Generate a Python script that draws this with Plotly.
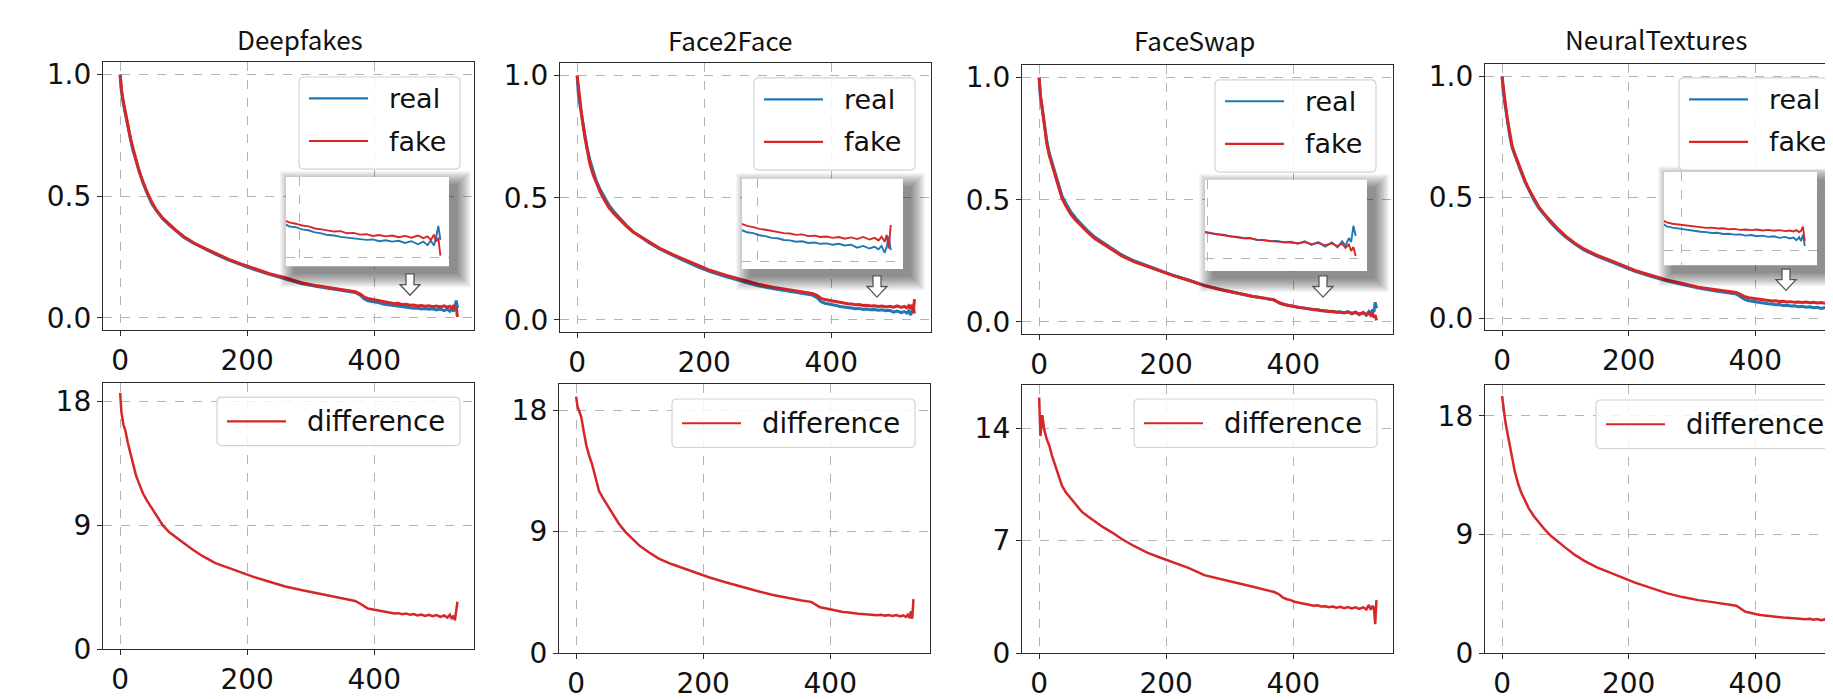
import plotly.graph_objects as go

W, H = 1833, 699

# ---------------- data ----------------
X = [0, 2, 5, 8, 12, 16, 20, 25, 30, 36,
     42, 50, 58, 67, 77, 88, 100, 115, 130, 150,
     170, 190, 210, 235, 260, 285, 310, 335, 355, 370,
     378, 384, 390, 396, 402, 408, 414, 420, 426, 432,
     438, 444, 450, 456, 462, 468, 474, 480, 486, 492,
     498, 504, 510, 515, 519, 522, 525, 527, 529, 531]

DF_FAKE = [1.00, 0.94, 0.89, 0.85, 0.79, 0.74, 0.70, 0.65, 0.60, 0.56,
           0.52, 0.475, 0.44, 0.41, 0.385, 0.36, 0.335, 0.31, 0.29, 0.265,
           0.242, 0.222, 0.203, 0.182, 0.165, 0.145, 0.132, 0.122, 0.114, 0.108,
           0.098, 0.086, 0.080, 0.077, 0.073, 0.071, 0.066, 0.064, 0.062, 0.059,
           0.060, 0.055, 0.056, 0.052, 0.053, 0.049, 0.051, 0.048, 0.050, 0.046,
           0.049, 0.045, 0.050, 0.044, 0.048, 0.040, 0.052, 0.036, 0.045, 0.004]
DF_REAL = [1.00, 0.93, 0.88, 0.84, 0.78, 0.74, 0.69, 0.65, 0.60, 0.555,
           0.515, 0.468, 0.438, 0.408, 0.382, 0.357, 0.332, 0.308, 0.287, 0.262,
           0.239, 0.219, 0.200, 0.179, 0.162, 0.142, 0.129, 0.119, 0.111, 0.105,
           0.094, 0.079, 0.071, 0.069, 0.064, 0.062, 0.057, 0.055, 0.051, 0.050,
           0.047, 0.045, 0.043, 0.042, 0.040, 0.041, 0.037, 0.039, 0.036, 0.038,
           0.033, 0.037, 0.030, 0.036, 0.028, 0.038, 0.027, 0.046, 0.072, 0.040]
DF_DIFF = [18.6, 17.2, 16.3, 15.9, 15.0, 14.2, 13.5, 12.6, 12.0, 11.3,
           10.8, 10.2, 9.6, 9.0, 8.5, 8.1, 7.7, 7.2, 6.75, 6.25,
           5.9, 5.55, 5.25, 4.9, 4.55, 4.3, 4.05, 3.8, 3.65, 3.5,
           3.3, 3.1, 2.95, 2.9, 2.85, 2.8, 2.75, 2.72, 2.68, 2.6,
           2.62, 2.55, 2.6, 2.5, 2.55, 2.45, 2.52, 2.42, 2.5, 2.4,
           2.48, 2.35, 2.45, 2.3, 2.5, 2.2, 2.45, 2.1, 2.8, 3.45]

F2F_FAKE = [1.00, 0.95, 0.88, 0.82, 0.75, 0.69, 0.64, 0.595, 0.56, 0.525,
            0.495, 0.46, 0.435, 0.41, 0.385, 0.36, 0.34, 0.315, 0.293, 0.268,
            0.245, 0.222, 0.202, 0.182, 0.163, 0.146, 0.133, 0.122, 0.114, 0.108,
            0.100, 0.088, 0.083, 0.080, 0.076, 0.074, 0.071, 0.069, 0.066, 0.065,
            0.062, 0.063, 0.059, 0.060, 0.057, 0.058, 0.055, 0.057, 0.053, 0.056,
            0.052, 0.057, 0.051, 0.055, 0.049, 0.058, 0.046, 0.062, 0.030, 0.085]
F2F_REAL = [1.00, 0.92, 0.87, 0.82, 0.76, 0.70, 0.655, 0.61, 0.57, 0.535,
            0.505, 0.47, 0.443, 0.415, 0.388, 0.361, 0.339, 0.313, 0.29, 0.264,
            0.24, 0.217, 0.197, 0.176, 0.157, 0.14, 0.127, 0.116, 0.108, 0.102,
            0.090, 0.074, 0.068, 0.066, 0.061, 0.059, 0.055, 0.054, 0.050, 0.049,
            0.046, 0.047, 0.043, 0.044, 0.041, 0.042, 0.039, 0.041, 0.037, 0.039,
            0.032, 0.036, 0.030, 0.034, 0.028, 0.036, 0.020, 0.034, 0.058, 0.026]
F2F_DIFF = [19.0, 18.3, 17.9, 17.5, 16.4, 15.4, 14.7, 14.0, 13.1, 12.0,
            11.5, 10.9, 10.2, 9.6, 9.0, 8.5, 7.95, 7.45, 7.0, 6.6,
            6.25, 5.9, 5.6, 5.25, 4.9, 4.6, 4.3, 4.05, 3.9, 3.8,
            3.55, 3.4, 3.35, 3.28, 3.22, 3.18, 3.1, 3.05, 3.02, 2.97,
            2.95, 2.92, 2.9, 2.88, 2.84, 2.87, 2.8, 2.85, 2.78, 2.83,
            2.76, 2.82, 2.72, 2.8, 2.68, 2.85, 2.6, 3.1, 2.55, 4.0]

FS_FAKE = [1.00, 0.93, 0.87, 0.81, 0.73, 0.68, 0.645, 0.60, 0.55, 0.505,
           0.475, 0.44, 0.415, 0.39, 0.365, 0.34, 0.32, 0.295, 0.27, 0.245,
           0.226, 0.207, 0.19, 0.17, 0.148, 0.132, 0.117, 0.105, 0.097, 0.09,
           0.078, 0.072, 0.068, 0.066, 0.062, 0.060, 0.057, 0.055, 0.052, 0.050,
           0.049, 0.046, 0.044, 0.043, 0.041, 0.040, 0.039, 0.037, 0.040, 0.035,
           0.038, 0.032, 0.037, 0.030, 0.036, 0.026, 0.034, 0.018, 0.028, 0.006]
FS_REAL = [1.00, 0.92, 0.87, 0.81, 0.74, 0.69, 0.655, 0.61, 0.56, 0.515,
           0.485, 0.45, 0.423, 0.397, 0.371, 0.346, 0.325, 0.299, 0.274, 0.249,
           0.229, 0.209, 0.191, 0.171, 0.149, 0.132, 0.117, 0.105, 0.096, 0.089,
           0.077, 0.071, 0.069, 0.065, 0.063, 0.059, 0.058, 0.054, 0.053, 0.049,
           0.050, 0.045, 0.045, 0.042, 0.043, 0.039, 0.041, 0.036, 0.042, 0.033,
           0.040, 0.029, 0.039, 0.027, 0.042, 0.031, 0.050, 0.040, 0.080, 0.055]
FS_DIFF = [15.9, 13.5, 14.8, 13.9, 13.3, 12.9, 12.3, 11.7, 11.0, 10.4,
           10.0, 9.6, 9.2, 8.8, 8.5, 8.2, 7.85, 7.5, 7.1, 6.65,
           6.25, 5.95, 5.65, 5.3, 4.85, 4.6, 4.38, 4.15, 3.95, 3.8,
           3.65, 3.45, 3.35, 3.3, 3.2, 3.15, 3.08, 3.05, 3.0, 2.95,
           2.98, 2.9, 2.92, 2.85, 2.9, 2.82, 2.88, 2.8, 2.86, 2.78,
           2.85, 2.75, 2.85, 2.72, 3.0, 2.7, 2.95, 2.8, 1.8, 3.3]

NT_FAKE = [1.00, 0.95, 0.89, 0.83, 0.76, 0.71, 0.68, 0.645, 0.61, 0.57,
           0.535, 0.495, 0.46, 0.43, 0.40, 0.37, 0.34, 0.31, 0.285, 0.26,
           0.24, 0.218, 0.197, 0.177, 0.158, 0.143, 0.128, 0.118, 0.110, 0.106,
           0.096, 0.088, 0.084, 0.082, 0.079, 0.077, 0.075, 0.074, 0.071, 0.072,
           0.069, 0.070, 0.067, 0.068, 0.065, 0.066, 0.064, 0.066, 0.063, 0.065,
           0.062, 0.064, 0.061, 0.063, 0.060, 0.064, 0.058, 0.062, 0.075, 0.030]
NT_REAL = [1.00, 0.93, 0.88, 0.82, 0.755, 0.705, 0.675, 0.64, 0.605, 0.565,
           0.53, 0.49, 0.455, 0.425, 0.395, 0.365, 0.336, 0.306, 0.281, 0.256,
           0.236, 0.214, 0.193, 0.173, 0.154, 0.139, 0.124, 0.113, 0.105, 0.100,
           0.086, 0.076, 0.072, 0.069, 0.066, 0.063, 0.062, 0.059, 0.058, 0.055,
           0.056, 0.052, 0.053, 0.050, 0.051, 0.047, 0.049, 0.045, 0.047, 0.043,
           0.045, 0.040, 0.043, 0.038, 0.041, 0.033, 0.042, 0.030, 0.050, 0.015]
NT_DIFF = [19.5, 18.6, 17.6, 16.8, 15.8, 14.8, 13.8, 12.9, 12.2, 11.6,
           11.0, 10.4, 9.9, 9.4, 8.9, 8.45, 8.0, 7.45, 7.0, 6.5,
           6.1, 5.7, 5.35, 4.95, 4.55, 4.25, 4.02, 3.85, 3.72, 3.6,
           3.35, 3.15, 3.08, 3.0, 2.95, 2.9, 2.86, 2.82, 2.8, 2.75,
           2.74, 2.7, 2.69, 2.66, 2.65, 2.6, 2.62, 2.57, 2.6, 2.53,
           2.58, 2.5, 2.56, 2.45, 2.55, 2.4, 2.6, 2.3, 3.4, 1.85]

PANELS = ["Deepfakes", "Face2Face", "FaceSwap", "NeuralTextures"]
REAL = [DF_REAL, F2F_REAL, FS_REAL, NT_REAL]
FAKE = [DF_FAKE, F2F_FAKE, FS_FAKE, NT_FAKE]
DIFF = [DF_DIFF, F2F_DIFF, FS_DIFF, NT_DIFF]
X_TICKS = [0, 200, 400]
TOP_Y_TICKS = [0.0, 0.5, 1.0]
DIFF_TICKS = [[0, 9, 18], [0, 9, 18], [0, 7, 14], [0, 9, 18]]
SERIES_NAMES = ["real", "fake", "difference"]

# ---------------- styling / geometry (pixels) ----------------
BLUE = "#1f77b4"
RED = "#d62728"
GRID = "#b4b4b4"
SPINE = "#2b2b2b"
TICKFONT = dict(family="DejaVu Sans", size=28, color="#111111")

TOP_BOX = [(95, 466, 52, 328), (552, 923, 53, 330), (1014, 1385, 55, 332), (1477, 1833, 54, 328)]
BOT_BOX = [(95, 466, 382, 657), (551, 922, 384, 661), (1014, 1385, 385, 661), (1477, 1833, 385, 661)]
X_RANGE = [[-27, 557], [-27, 557], [-27, 557], [-27, 535.5]]
TOP_Y_RANGE = [-0.05, 1.05]
BOT_YMAX = [19.35, 19.9, 16.65, 20.3]
INSET_BOX = [(278, 441, 170, 262), (734, 895, 172, 265), (1197, 1359, 173, 267), (1656, 1809, 165, 261)]
INSET_XR = [[387, 539], [385, 543], [398, 541], [381, 544]]
INSET_YR = [[-0.02, 0.184], [-0.018, 0.193], [-0.031, 0.193], [-0.045, 0.245]]
ARROWS = [(402, 270), (869, 272), (1315, 272), (1778, 265)]
TITLE_POS = [(292, 27), (722, 28), (1186, 28), (1648, 27)]
# legend boxes: (right edge, top) in px
LEG_TOP = [(452, 67), (907, 68), (1368, 70), (1832, 68)]
LEG_BOT = [(452, 397), (907, 399), (1369, 399), (1831, 400)]


def fx(p):
    return p / W


def fy(p):
    return 1 - p / H


def axkey(n, c):
    return f"{c}axis" if n == 1 else f"{c}axis{n}"


def axref(n, c):
    return c if n == 1 else f"{c}{n}"


def rounded_rect(x0, y0, x1, y1, r):
    def P(x, y):
        return f"{fx(x):.5f},{fy(y):.5f}"
    return (f"M {P(x0 + r, y0)} L {P(x1 - r, y0)} Q {P(x1, y0)} {P(x1, y0 + r)} "
            f"L {P(x1, y1 - r)} Q {P(x1, y1)} {P(x1 - r, y1)} "
            f"L {P(x0 + r, y1)} Q {P(x0, y1)} {P(x0, y1 - r)} "
            f"L {P(x0, y0 + r)} Q {P(x0, y0)} {P(x0 + r, y0)} Z")


fig = go.Figure()
shapes, annotations = [], []
layout = dict(
    width=W, height=H, autosize=False,
    margin=dict(l=0, r=0, t=0, b=0),
    paper_bgcolor="white", plot_bgcolor="rgba(0,0,0,0)",
    hovermode=False, showlegend=False,
    font=dict(family="DejaVu Sans", color="#111111"),
)

main_x = dict(showgrid=True, gridcolor=GRID, griddash="dash", gridwidth=1, zeroline=False,
              showline=True, linecolor=SPINE, linewidth=1.3, ticks="outside", ticklen=5,
              tickwidth=1.2, tickcolor=SPINE, tickfont=TICKFONT, tickvals=X_TICKS)
main_y = dict(showgrid=True, gridcolor=GRID, griddash="dash", gridwidth=1, zeroline=False,
              showline=True, linecolor=SPINE, linewidth=1.3, ticks="outside", ticklen=5,
              tickwidth=1.2, tickcolor=SPINE, tickfont=TICKFONT)


def add_legend(right, top, width, height, rows, size):
    left = right - width
    shapes.append(dict(type="path", path=rounded_rect(left, top, right, top + height, 5),
                       xref="paper", yref="paper", fillcolor="rgba(255,255,255,0.82)",
                       line=dict(color="#d3d3d3", width=1.2), layer="above"))
    for (dy, color, label) in rows:
        yy = top + dy
        shapes.append(dict(type="line", x0=fx(left + 10), x1=fx(left + 69), y0=fy(yy), y1=fy(yy),
                           xref="paper", yref="paper", line=dict(color=color, width=2.2),
                           layer="above"))
        annotations.append(dict(text=label, x=fx(left + 88), y=fy(yy), xref="paper", yref="paper",
                                xanchor="left", yanchor="middle", showarrow=False,
                                font=dict(family="DejaVu Sans", size=size, color="#111111")))


for i in range(4):
    t, b, o, s = i + 1, i + 5, i + 9, i + 13
    # --- main top
    x0, x1, y0, y1 = TOP_BOX[i]
    layout[axkey(t, "x")] = dict(main_x, domain=[fx(x0), fx(x1)], range=X_RANGE[i],
                                 anchor=axref(t, "y"), mirror=True)
    layout[axkey(t, "y")] = dict(main_y, domain=[fy(y1), fy(y0)], range=TOP_Y_RANGE,
                                 tickvals=TOP_Y_TICKS, tickformat=".1f",
                                 anchor=axref(t, "x"), mirror=(i < 3))
    # --- main bottom
    x0, x1, y0, y1 = BOT_BOX[i]
    layout[axkey(b, "x")] = dict(main_x, domain=[fx(x0), fx(x1)], range=X_RANGE[i],
                                 anchor=axref(b, "y"), mirror=True)
    layout[axkey(b, "y")] = dict(main_y, domain=[fy(y1), fy(y0)], range=[0, BOT_YMAX[i]],
                                 tickvals=DIFF_TICKS[i], anchor=axref(b, "x"), mirror=(i < 3))
    # --- shadow / white backing layer for the inset (pixel-unit axes)
    bx0, bx1, by0, by1 = INSET_BOX[i]
    ox0, ox1, oy0, oy1 = bx0 - 8, min(bx1 + 24, W), by0 - 8, by1 + 24
    layout[axkey(o, "x")] = dict(visible=False, domain=[fx(ox0), fx(ox1)], range=[ox0, ox1],
                                 anchor=axref(o, "y"), fixedrange=True)
    layout[axkey(o, "y")] = dict(visible=False, domain=[fy(oy1), fy(oy0)], range=[oy1, oy0],
                                 anchor=axref(o, "x"), fixedrange=True)
    # --- inset
    layout[axkey(s, "x")] = dict(domain=[fx(bx0), fx(bx1)], range=INSET_XR[i], tickvals=[400],
                                 showticklabels=False, ticks="", showline=False, zeroline=False,
                                 showgrid=True, gridcolor=GRID, griddash="dash", gridwidth=1,
                                 anchor=axref(s, "y"))
    layout[axkey(s, "y")] = dict(domain=[fy(by1), fy(by0)], range=INSET_YR[i], tickvals=[0],
                                 showticklabels=False, ticks="", showline=False, zeroline=False,
                                 showgrid=True, gridcolor=GRID, griddash="dash", gridwidth=1,
                                 anchor=axref(s, "x"))

    # traces: main top
    fig.add_trace(go.Scatter(x=X, y=REAL[i], mode="lines", name=SERIES_NAMES[0],
                             line=dict(color=BLUE, width=3),
                             xaxis=axref(t, "x"), yaxis=axref(t, "y")))
    fig.add_trace(go.Scatter(x=X, y=FAKE[i], mode="lines", name=SERIES_NAMES[1],
                             line=dict(color=RED, width=3),
                             xaxis=axref(t, "x"), yaxis=axref(t, "y")))
    # main bottom
    fig.add_trace(go.Scatter(x=X, y=DIFF[i], mode="lines", name=SERIES_NAMES[2],
                             line=dict(color=RED, width=2.5),
                             xaxis=axref(b, "x"), yaxis=axref(b, "y")))
    # shadow layers (decoration)
    for k in range(15):
        sx0, sy0 = bx0 + 8 - k, by0 + 8 - k
        sx1, sy1 = bx1 + 8 + k, by1 + 8 + k
        fig.add_trace(go.Scatter(x=[sx0, sx1, sx1, sx0, sx0], y=[sy0, sy0, sy1, sy1, sy0],
                                 mode="lines", fill="toself", fillcolor="rgba(0,0,0,0.035)",
                                 line=dict(width=0), showlegend=False,
                                 xaxis=axref(o, "x"), yaxis=axref(o, "y")))
    fig.add_trace(go.Scatter(x=[bx0, bx1, bx1, bx0, bx0], y=[by0, by0, by1, by1, by0],
                             mode="lines", fill="toself", fillcolor="white",
                             line=dict(width=0), showlegend=False,
                             xaxis=axref(o, "x"), yaxis=axref(o, "y")))
    # inset traces (zoom on the tail of the same series)
    fig.add_trace(go.Scatter(x=X, y=REAL[i], mode="lines", line=dict(color=BLUE, width=1.9),
                             showlegend=False, xaxis=axref(s, "x"), yaxis=axref(s, "y")))
    fig.add_trace(go.Scatter(x=X, y=FAKE[i], mode="lines", line=dict(color=RED, width=1.9),
                             showlegend=False, xaxis=axref(s, "x"), yaxis=axref(s, "y")))

    # hollow down arrow under the inset
    cx, ty = ARROWS[i]
    pts = [(-4, 0), (4, 0), (4, 11), (10, 11), (0, 22), (-10, 11), (-4, 11)]
    path = "M " + " L ".join(f"{fx(cx + dx):.5f},{fy(ty + dy):.5f}" for dx, dy in pts) + " Z"
    shapes.append(dict(type="path", path=path, xref="paper", yref="paper",
                       line=dict(color="#555555", width=1.3), fillcolor="white", layer="above"))

    # legends (drawn as boxes + line samples + text)
    r, tp = LEG_TOP[i]
    add_legend(r, tp, 161, 95, [(22, BLUE, SERIES_NAMES[0]), (66, RED, SERIES_NAMES[1])], 27)
    r, tp = LEG_BOT[i]
    add_legend(r, tp, 243, 50, [(25, RED, SERIES_NAMES[2])], 27.5)

    # panel title
    tx, tyy = TITLE_POS[i]
    annotations.append(dict(text=PANELS[i], x=fx(tx), y=fy(tyy), xref="paper",
                            yref="paper", xanchor="center", yanchor="middle",
                            showarrow=False,
                            font=dict(family="Noto Sans CJK SC", size=26, weight=400,
                                      color="#111111")))

layout["shapes"] = shapes
layout["annotations"] = annotations
fig.update_layout(**layout)
fig.write_html("out.html", config={"displayModeBar": False})
